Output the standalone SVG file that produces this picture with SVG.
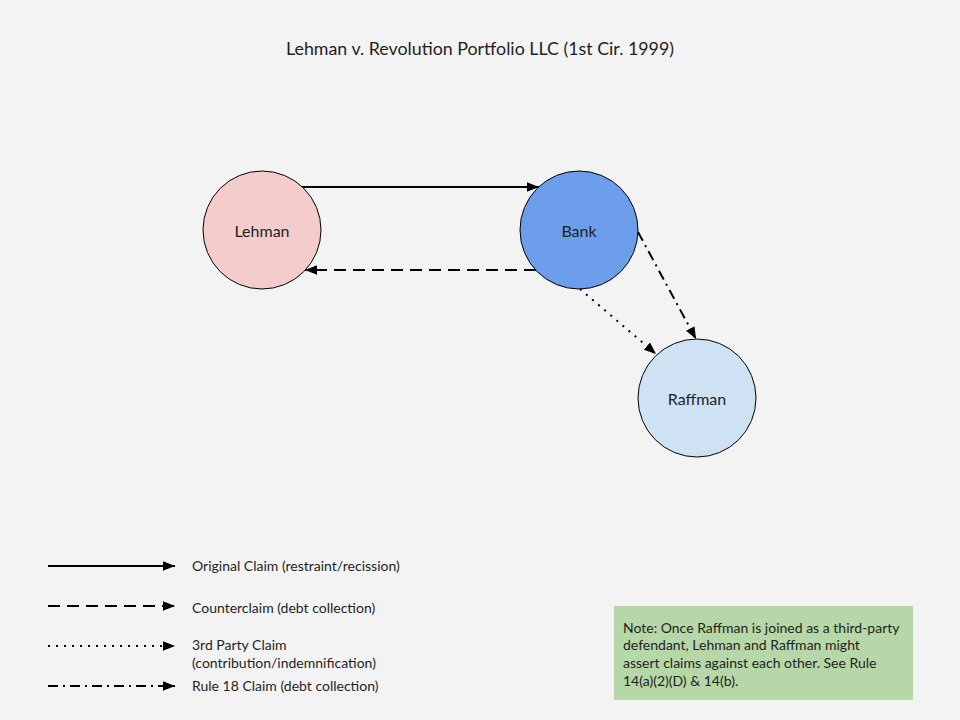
<svg xmlns="http://www.w3.org/2000/svg" width="960" height="720" viewBox="0 0 960 720">
<defs>
<marker id="ah" viewBox="0 0 10 10" refX="10" refY="5" markerWidth="12" markerHeight="12" markerUnits="userSpaceOnUse" orient="auto">
<path d="M0,1 L10,5 L0,9 Z" fill="#000"/>
</marker>
<style>
text{font-family:Lato,"Open Sans","DejaVu Sans",sans-serif;fill:#1f1f1f}
.node{stroke:#000;stroke-width:1}
.lbl{font-size:16px;text-anchor:middle;dominant-baseline:central}
.c{fill:none;stroke:#000;stroke-width:2;marker-end:url(#ah)}
.dash{stroke-dasharray:12,7}
.dot{stroke-dasharray:2,6}
.dd{stroke-dasharray:10,5,2,5}
.leg{font-size:14px}
</style>
</defs>
<rect width="960" height="720" fill="#f3f3f3"/>
<text x="480" y="55" font-size="18" text-anchor="middle" textLength="388" lengthAdjust="spacingAndGlyphs">Lehman v. Revolution Portfolio LLC (1st Cir. 1999)</text>
<g id="connectors">
<line class="c" x1="302" y1="187" x2="539" y2="187"/>
<line class="c dash" x1="536" y1="270" x2="305" y2="270"/>
<line class="c dot" x1="580" y1="289" x2="656" y2="354"/>
<line class="c dd" x1="638" y1="232" x2="696" y2="339"/>
</g>
<g id="lehman">
<circle class="node" cx="262" cy="230" r="59" fill="#f4cccc"/>
<text class="lbl" x="262" y="230">Lehman</text>
</g>
<g id="bank">
<circle class="node" cx="579" cy="230" r="59" fill="#6d9eeb"/>
<text class="lbl" x="579" y="230">Bank</text>
</g>
<g id="raffman">
<circle class="node" cx="697" cy="398" r="59" fill="#cfe2f3"/>
<text class="lbl" x="697" y="398">Raffman</text>
</g>
<g id="legend">
<line class="c" x1="48" y1="566" x2="175" y2="566"/>
<line class="c dash" x1="48" y1="606" x2="175" y2="606"/>
<line class="c dot" x1="48" y1="646" x2="175" y2="646"/>
<line class="c dd" x1="48" y1="686" x2="175" y2="686"/>
<text class="leg" x="192" y="571">Original Claim (restraint/recission)</text>
<text class="leg" x="192" y="613">Counterclaim (debt collection)</text>
<text class="leg" x="192" y="650">3rd Party Claim</text>
<text class="leg" x="192" y="668">(contribution/indemnification)</text>
<text class="leg" x="192" y="691">Rule 18 Claim (debt collection)</text>
</g>
<g id="note">
<rect x="614" y="606" width="299" height="94" fill="#b6d7a8"/>
<text class="leg" x="623" y="633">Note: Once Raffman is joined as a third-party</text>
<text class="leg" x="623" y="650">defendant, Lehman and Raffman might</text>
<text class="leg" x="623" y="668">assert claims against each other. See Rule</text>
<text class="leg" x="623" y="686">14(a)(2)(D) &amp; 14(b).</text>
</g>
</svg>
